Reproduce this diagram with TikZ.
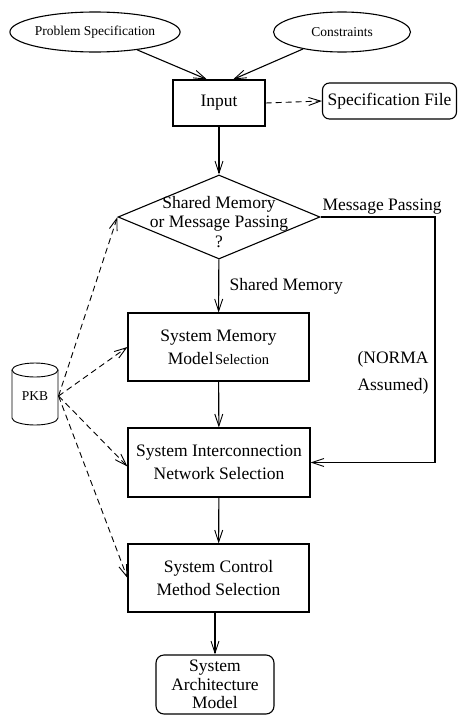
\documentclass[tikz,border=0pt]{standalone}
\usepackage{fontspec}
\setmainfont{Liberation Serif}
\usetikzlibrary{arrows.meta,shapes.geometric,calc}
\newcommand\bigf{\fontsize{17.5}{23}\selectfont}
\newcommand\smallf{\fontsize{13.5}{16}\selectfont}
\begin{document}
\begin{tikzpicture}[x=1pt,y=-1pt,
  line width=1.1pt,
  arr/.style={-{Straight Barb[length=12pt,width=8pt,line width=0.9pt]}},
  dsh/.style={arr,line width=0.9pt,dash pattern=on 6pt off 4pt},
  ell/.style={draw,ellipse,inner sep=0pt,font=\smallf},
  box/.style={draw,rectangle,inner sep=0pt,align=center,font=\bigf,minimum width=181pt,minimum height=68pt},
  rbox/.style={draw,rectangle,rounded corners=7pt,inner sep=0pt,align=center},
  lbl/.style={inner sep=0pt,font=\bigf}]
\useasboundingbox (0,0) rectangle (458,715);
\node[ell,minimum width=134pt,minimum height=40pt] (ps) at (95,32) {Problem Specification};
\node[ell,minimum width=137pt,minimum height=40pt] (con) at (342,32) {Constraints};
\node[box,minimum width=92pt,minimum height=46pt] (input) at (219,103) {Input};
\node[rbox,font=\bigf,minimum width=134pt,minimum height=36pt] (spec) at (389.5,101) {Specification File};
\node[draw,diamond,minimum width=202pt,minimum height=84pt,inner sep=0pt] (dec) at (219,217) {};
\node[lbl,align=center,font=\fontsize{17.5}{19.5}\selectfont] (dectext) at (219,222) {Shared Memory\\or Message Passing\\?};
\node[box] (m1) at (218.5,347) {System Memory\\Model\hspace{1.5pt}{\fontsize{14.5}{16}\selectfont Selection}};
\node[box,minimum width=182pt,minimum height=69pt] (m2) at (219,462.5) {System Interconnection\\Network Selection};
\node[box] (m3) at (218.5,578) {System Control\\Method Selection};
\node[rbox,font=\fontsize{17.5}{18.5}\selectfont,minimum width=118pt,minimum height=59pt,rounded corners=8pt] (fin) at (215,684.5) {System\\Architecture\\Model};
% PKB cylinder
\node[inner sep=0pt,minimum width=46pt,minimum height=62pt,font=\smallf] (pkb) at (35,396) {PKB};
\draw[line width=0.9pt] (12,370) -- (12,418) arc[start angle=180,end angle=360,x radius=23,y radius=-7] -- (58,370);
\draw[line width=0.9pt] (35,370) ellipse[x radius=23,y radius=7];
% labels
\node[lbl,anchor=south west] (mplbl) at (322,215) {Message Passing};
\node[lbl,anchor=west] (smlbl) at (229,286) {Shared Memory};
\node[lbl,anchor=west,align=left,font=\fontsize{17.5}{27}\selectfont] (norma) at (357,373) {(NORMA\\Assumed)};
% connectors
\draw[arr] (ps) -- ([xshift=-12pt]input.north);
\draw[arr] (con) -- ([xshift=14pt]input.north);
\draw[dsh] (input.east) -- (spec.west);
\draw[arr] (input) -- (dec);
\draw[arr] (dec) -- (m1);
\draw[arr] (m1) -- (m2);
\draw[arr] (m2) -- (m3);
\draw[arr] (m3.south -| fin.north) -- (fin.north);
\coordinate (mpc) at (435,217);
\draw[arr] (dec.east) -- (mpc) |- (m2.east);
\draw[dsh] (pkb.east) -- (dec.west);
\draw[dsh] (pkb.east) -- (m1.west);
\draw[dsh] (pkb.east) -- ([yshift=-4pt]m2.west);
\draw[dsh] (pkb.east) -- (m3.west);
\end{tikzpicture}
\end{document}
